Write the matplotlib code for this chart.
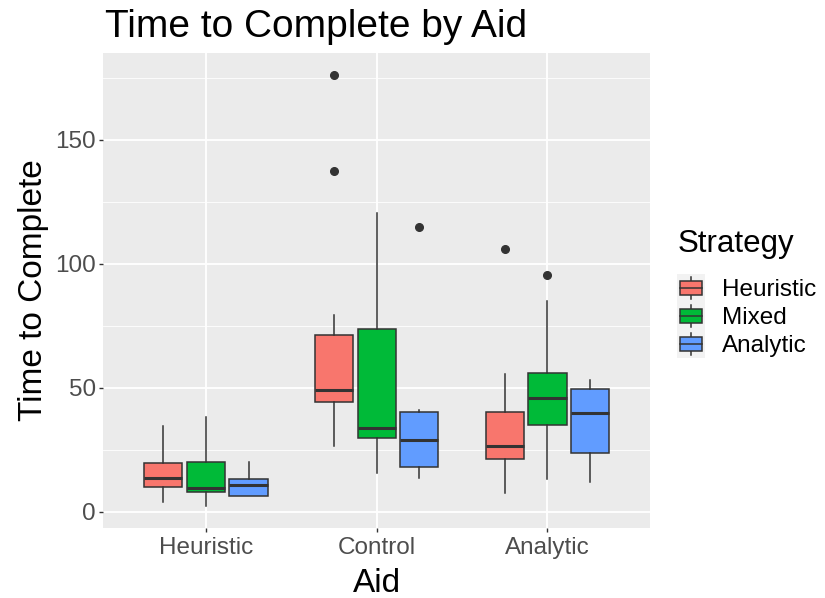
import matplotlib
matplotlib.use("Agg")
import matplotlib.pyplot as plt
from matplotlib.patches import Rectangle
from matplotlib.lines import Line2D
from matplotlib.legend_handler import HandlerBase

plt.rcParams['font.family'] = ['Liberation Sans', 'DejaVu Sans']

# data
aids = ['Heuristic', 'Control', 'Analytic']
strategies = ['Heuristic', 'Mixed', 'Analytic']
colors = ['#F8766D', '#00BA38', '#619CFF']

# one row per aid, one entry per strategy
q1 = [[10.0, 7.8, 6.5], [44.1, 29.7, 17.9], [21.3, 35.1, 23.6]]
med = [[13.7, 9.7, 10.8], [49.1, 33.9, 28.9], [26.5, 45.8, 39.7]]
q3 = [[19.8, 20.2, 13.3], [71.3, 73.7, 40.1], [40.1, 55.8, 49.4]]
whislo = [[3.8, 2.4, 6.5], [26.5, 15.7, 13.7], [7.4, 13.2, 12.1]]
whishi = [[34.4, 38.3, 19.9], [79.4, 120.4, 41.0], [55.6, 85.2, 53.0]]
fliers = [[[], [], []], [[176.1, 137.4], [], [114.8]], [[105.9], [95.4], []]]

edge = '#333333'
bg = '#EBEBEB'

fig = plt.figure(figsize=(8.25, 5.98), dpi=100)
ax = fig.add_axes([103.3 / 825, 1 - 528 / 598, 546.7 / 825, 475.3 / 598])
ax.set_facecolor(bg)
for s in ax.spines.values():
    s.set_visible(False)

dodge = 0.25
bw = 0.224
for i in range(len(aids)):
    for j in range(len(strategies)):
        st = dict(med=med[i][j], q1=q1[i][j], q3=q3[i][j],
                  whislo=whislo[i][j], whishi=whishi[i][j], fliers=fliers[i][j])
        pos = i + 1 + (j - 1) * dodge
        ax.bxp([st], positions=[pos], widths=bw, patch_artist=True,
               showcaps=False, manage_ticks=False,
               boxprops=dict(facecolor=colors[j], edgecolor=edge, linewidth=1.1),
               medianprops=dict(color=edge, linewidth=2.2),
               whiskerprops=dict(color=edge, linewidth=1.1),
               flierprops=dict(marker='o', markerfacecolor=edge, markeredgecolor=edge,
                               markersize=5.5),
               zorder=3)

ax.set_xlim(0.4, 3.6)
ax.set_ylim(-6.6, 185.2)
ax.set_xticks([1, 2, 3])
ax.set_xticklabels(aids)
ax.set_yticks([0, 50, 100, 150])
ax.set_yticks([25, 75, 125, 175], minor=True)
ax.grid(which='major', color='white', linewidth=1.3, zorder=0)
ax.grid(which='minor', axis='y', color='white', linewidth=0.6, zorder=0)
ax.set_axisbelow(True)
ax.tick_params(which='major', length=3, width=1, color=edge, labelsize=17.5,
               labelcolor='#4D4D4D', pad=2.5)
ax.tick_params(axis='x', pad=3.5)
ax.tick_params(which='minor', length=0)

ax.set_xlabel('Aid', fontsize=24)
ax.set_ylabel('Time to Complete', fontsize=24)
ax.xaxis.set_label_coords(0.5, -0.084)
ax.yaxis.set_label_coords(-0.1, 0.5)

fig.text(105 / 825, 1 - 37 / 598, 'Time to Complete by Aid', fontsize=28,
         ha='left', va='baseline')


class BoxKey(HandlerBase):
    def create_artists(self, legend, orig_handle, xdescent, ydescent,
                       width, height, fontsize, trans):
        x0, y0 = -xdescent, -ydescent
        back = Rectangle((x0, y0), width, height, facecolor='#F2F2F2',
                         edgecolor='none', transform=trans)
        cx = x0 + width / 2
        wl = Line2D([cx, cx], [y0 + height * 0.1, y0 + height * 0.9],
                    color=edge, linewidth=1.1, transform=trans)
        box = Rectangle((x0 + width * 0.1, y0 + height * 0.25), width * 0.8, height * 0.5,
                        facecolor=orig_handle, edgecolor=edge, linewidth=1.1,
                        transform=trans)
        ml = Line2D([x0 + width * 0.1, x0 + width * 0.9], [y0 + height / 2] * 2,
                    color=edge, linewidth=1.1, transform=trans)
        return [back, wl, box, ml]


fig.text(678 / 825, 1 - 252 / 598, 'Strategy', fontsize=22.5, ha='left', va='baseline')
leg = fig.legend(colors, strategies, handler_map={str: BoxKey()},
                 loc='upper left', bbox_to_anchor=(677 / 825, 1 - 274 / 598),
                 frameon=False, fontsize=17.5, handlelength=1.15, handleheight=1.40,
                 labelspacing=0, handletextpad=0.7, borderpad=0, borderaxespad=0)

fig.savefig('out.png', dpi=100, facecolor='white')
